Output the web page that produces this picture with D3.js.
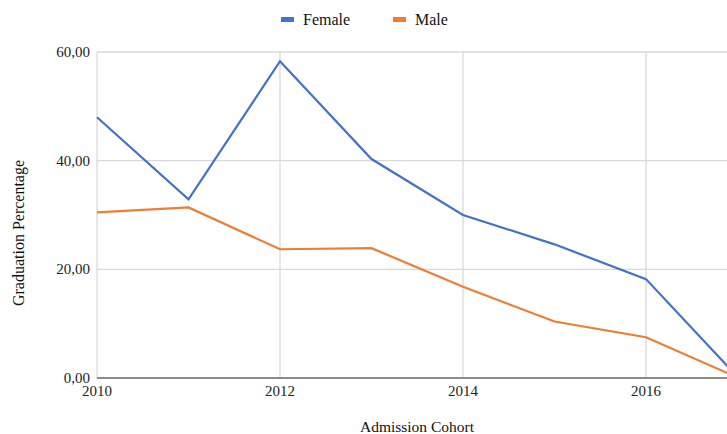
<!DOCTYPE html>
<head>
    <meta charset="utf-8">
    <title>Graduation Percentage by Admission Cohort</title>
    <style>
        body { margin: 0; background: #fff; }
    </style>
</head>
<body>

<svg width="727" height="434" font-family="'Liberation Serif', 'Times New Roman', Times, serif"></svg>

<script src="https://d3js.org/d3.v7.min.js"></script>

<script>

    // Data
    const years = [2010, 2011, 2012, 2013, 2014, 2015, 2016, 2017];
    const female = [48.0, 32.9, 58.3, 40.3, 30.0, 24.6, 18.2, 0.2];
    const male = [30.5, 31.4, 23.7, 23.9, 16.8, 10.4, 7.5, 0.1];
    const seriesNames = ["Female", "Male"];
    const yTicks = [0, 20, 40, 60];
    const xTicks = [2010, 2012, 2014, 2016];

    const svg = d3.select("svg");
    const margin = { left: 97, top: 52, bottom: 378 };

    const color = d3.scaleOrdinal(seriesNames, ["#4472c4", "#ed7d31"]);

    const x = d3.scaleLinear().domain([2010, 2017]).range([margin.left, 737.5]);
    const y = d3.scaleLinear().domain([0, 60]).range([margin.bottom, margin.top]);

    const fmt = d => d3.format(".2f")(d).replace(".", ",");

    // Gridlines
    svg.append("g")
        .selectAll("line.h")
        .data(yTicks.filter(d => d > 0))
        .enter().append("line")
            .attr("x1", margin.left).attr("x2", 727)
            .attr("y1", d => y(d)).attr("y2", d => y(d))
            .attr("stroke", "#d9d9d9").attr("stroke-width", 1.3);

    svg.append("g")
        .selectAll("line.v")
        .data(xTicks)
        .enter().append("line")
            .attr("x1", d => x(d)).attr("x2", d => x(d))
            .attr("y1", margin.top).attr("y2", margin.bottom)
            .attr("stroke", "#d9d9d9").attr("stroke-width", 1.3);

    // Y tick labels
    svg.append("g")
        .selectAll("text")
        .data(yTicks)
        .enter().append("text")
            .attr("x", 90)
            .attr("y", d => y(d) + 5)
            .attr("text-anchor", "end")
            .attr("fill", "#222")
            .style("font-size", "15px")
            .text(fmt);

    // X tick labels
    svg.append("g")
        .selectAll("text")
        .data(xTicks)
        .enter().append("text")
            .attr("x", d => x(d))
            .attr("y", 396)
            .attr("text-anchor", "middle")
            .attr("fill", "#222")
            .style("font-size", "15px")
            .text(d => d);

    // Lines
    const line = d3.line()
        .x((d, i) => x(years[i]))
        .y(d => y(d));

    svg.append("path")
        .attr("d", line(male))
        .attr("fill", "none")
        .attr("stroke", color("Male"))
        .attr("stroke-width", 2.2);

    svg.append("path")
        .attr("d", line(female))
        .attr("fill", "none")
        .attr("stroke", color("Female"))
        .attr("stroke-width", 2.2);

    // Baseline
    svg.append("line")
        .attr("x1", margin.left).attr("x2", 727)
        .attr("y1", margin.bottom).attr("y2", margin.bottom)
        .attr("stroke", "#666").attr("stroke-width", 1.3);

    // Axis titles
    svg.append("text")
        .attr("x", 417)
        .attr("y", 432)
        .attr("text-anchor", "middle")
        .attr("fill", "#111")
        .style("font-size", "15.5px")
        .text("Admission Cohort");

    svg.append("text")
        .attr("transform", "translate(24,233) rotate(-90)")
        .attr("text-anchor", "middle")
        .attr("fill", "#111")
        .style("font-size", "16px")
        .text("Graduation Percentage");

    // Legend
    const legendX = [281, 393];
    const legend = svg.append("g")
        .selectAll("g")
        .data(seriesNames)
        .enter().append("g")
            .attr("transform", (d, i) => "translate(" + legendX[i] + ",0)");

    legend.append("rect")
        .attr("x", 0).attr("y", 17)
        .attr("width", 13).attr("height", 5)
        .attr("fill", d => color(d));

    legend.append("text")
        .attr("x", 22).attr("y", 25)
        .attr("fill", "#111")
        .style("font-size", "16px")
        .text(d => d);

</script>

</body>
